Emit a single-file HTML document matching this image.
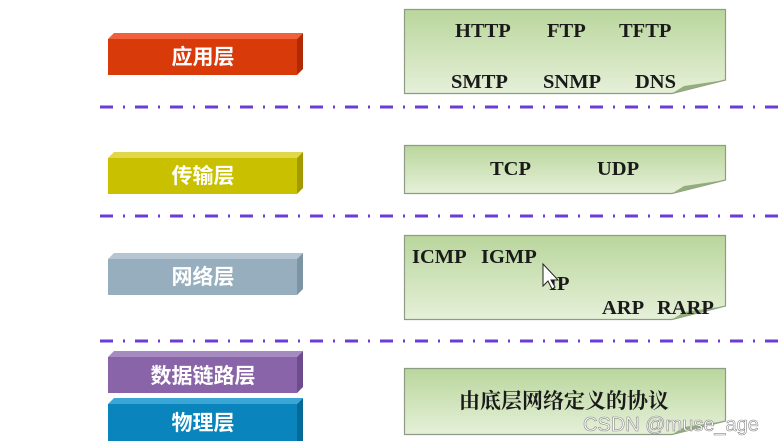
<!DOCTYPE html>
<html><head><meta charset="utf-8"><style>
html,body{margin:0;padding:0;background:#fff;}
svg{display:block}
.b{font-family:"Liberation Sans","Noto Sans CJK SC",sans-serif;font-size:21px;fill:#fff;font-weight:bold;text-anchor:middle}
.t{font-family:"Liberation Serif",serif;font-weight:bold;font-size:20.5px;fill:#1a1a1a}
</style></head><body>
<svg width="781" height="441" viewBox="0 0 781 441" xmlns="http://www.w3.org/2000/svg">
<defs>
<linearGradient id="g" x1="0" y1="0" x2="0" y2="1">
<stop offset="0" stop-color="#b9d69c"/><stop offset="1" stop-color="#e6f0d9"/></linearGradient>
</defs>
<g stroke="#6a3cd8" stroke-width="3" stroke-dasharray="13 10 2 10">
<line x1="100" y1="107" x2="781" y2="107"/>
<line x1="100" y1="216" x2="781" y2="216"/>
<line x1="100" y1="341" x2="781" y2="341"/>
</g>
<g>
<polygon points="108,39 114,33 303,33 297,39" fill="#f0603a"/>
<rect x="108" y="39" width="189" height="36" fill="#d93a0a"/>
<polygon points="297,39 303,33 303,69 297,75" fill="#b02a05"/>
<text class="b" x="203" y="64">应用层</text>

<polygon points="108,158 114,152 303,152 297,158" fill="#e0d84a"/>
<rect x="108" y="158" width="189" height="36" fill="#c9c000"/>
<polygon points="297,158 303,152 303,188 297,194" fill="#a39a00"/>
<text class="b" x="203" y="183">传输层</text>

<polygon points="108,259 114,253 303,253 297,259" fill="#b5c6d2"/>
<rect x="108" y="259" width="189" height="36" fill="#97aebe"/>
<polygon points="297,259 303,253 303,289 297,295" fill="#7d94a4"/>
<text class="b" x="203" y="284">网络层</text>

<polygon points="108,357 114,351 303,351 297,357" fill="#a68bc0"/>
<rect x="108" y="357" width="189" height="36" fill="#8a64a8"/>
<polygon points="297,357 303,351 303,387 297,393" fill="#6e4b8c"/>
<text class="b" x="203" y="383">数据链路层</text>

<polygon points="108,404 114,398 303,398 297,404" fill="#3aa6d6"/>
<rect x="108" y="404" width="189" height="37" fill="#0a84bd"/>
<polygon points="297,404 303,398 303,441 297,441" fill="#066a99"/>
<text class="b" x="203" y="430">物理层</text>
</g>
<g stroke="#8d9c84" stroke-width="1.2">
<polygon points="404.5,9.5 725.5,9.5 725.5,80 672,93.5 404.5,93.5" fill="url(#g)"/>
<polygon points="725.5,80 684,86 672,93.5" fill="#94ad7c" stroke="none"/>
<polygon points="404.5,145.5 725.5,145.5 725.5,180 672,193.5 404.5,193.5" fill="url(#g)"/>
<polygon points="725.5,180 684,186 672,193.5" fill="#94ad7c" stroke="none"/>
<polygon points="404.5,235.5 725.5,235.5 725.5,306 672,319.5 404.5,319.5" fill="url(#g)"/>
<polygon points="725.5,306 684,312 672,319.5" fill="#94ad7c" stroke="none"/>
<polygon points="404.5,368.5 725.5,368.5 725.5,421 672,434.5 404.5,434.5" fill="url(#g)"/>
<polygon points="725.5,421 684,427 672,434.5" fill="#94ad7c" stroke="none"/>
</g>
<g class="t">
<text x="455" y="37">HTTP</text>
<text x="547" y="37">FTP</text>
<text x="619" y="37">TFTP</text>
<text x="451" y="88">SMTP</text>
<text x="543" y="88">SNMP</text>
<text x="635" y="88">DNS</text>
<text x="490" y="175">TCP</text>
<text x="597" y="175">UDP</text>
<text x="412" y="263">ICMP</text>
<text x="481" y="263">IGMP</text>
<text x="549" y="290">IP</text>
<text x="602" y="314">ARP</text>
<text x="657" y="314">RARP</text>
</g>
<text x="459" y="408" style="font-family:'Liberation Serif','Noto Serif CJK SC',serif;font-weight:bold;font-size:21px;fill:#1a1a1a">由底层网络定义的协议</text>
<polygon points="543,264 543,286 548,281 552,289 555,287 551,280 558,280" fill="#fff" stroke="#222" stroke-width="1"/>
<text x="583" y="431" style="font-family:'Liberation Sans',sans-serif;font-size:20px;fill:#fff;stroke:#888;stroke-width:0.6">CSDN @muse_age</text>
</svg>
</body></html>
